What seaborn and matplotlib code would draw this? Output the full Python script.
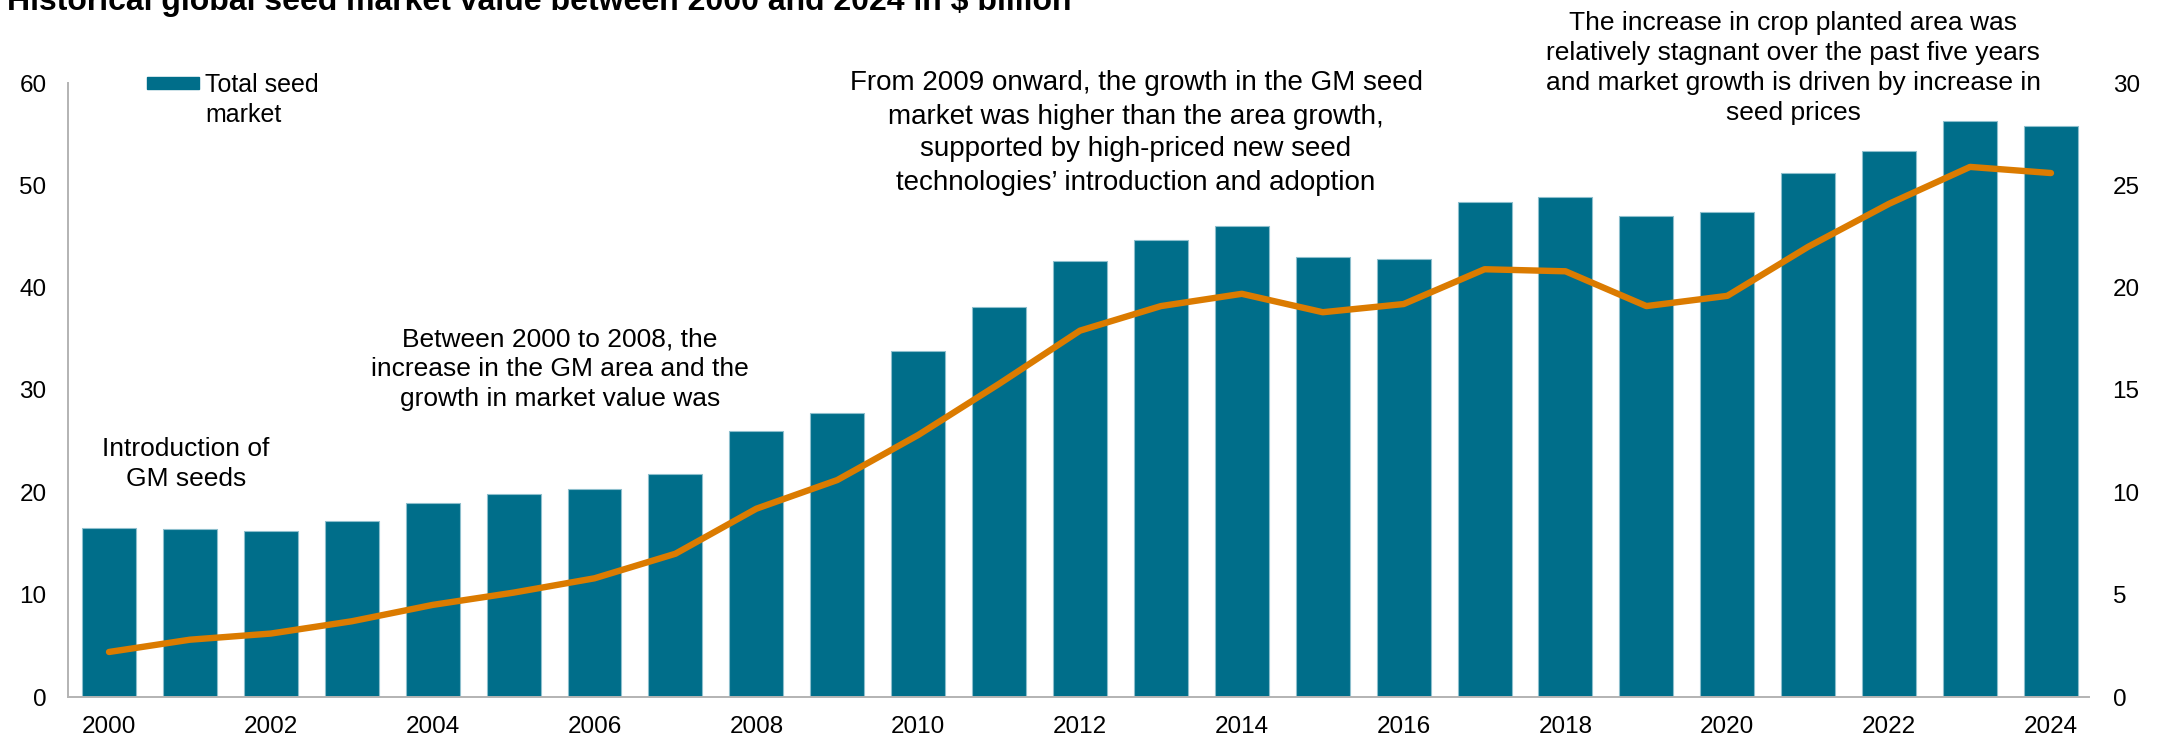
import numpy as np
import pandas as pd
import matplotlib
matplotlib.use("Agg")
import matplotlib.pyplot as plt
from matplotlib.patches import Rectangle
import seaborn as sns

# Global seed market, $ billion (bars, left axis) and planted area index (line, right axis)
years = list(range(2000, 2025))
market_value = [16.5, 16.4, 16.2, 17.2, 19.0, 19.8, 20.3, 21.8, 26.0, 27.8,
                33.8, 38.1, 42.6, 44.7, 46.0, 43.0, 42.8, 48.4, 48.9, 47.0,
                47.4, 51.2, 53.4, 56.3, 55.8]
planted_area = [2.2, 2.8, 3.1, 3.7, 4.5, 5.1, 5.8, 7.0, 9.2, 10.6,
                12.8, 15.3, 17.9, 19.1, 19.7, 18.8, 19.2, 20.9, 20.8, 19.1,
                19.6, 22.0, 24.1, 25.9, 25.6]
left_ticks = [0, 10, 20, 30, 40, 50, 60]
right_ticks = [0, 5, 10, 15, 20, 25, 30]
year_labels = [str(y) for y in years[::2]]

title = "Historical global seed market value between 2000 and 2024 in $ billion"
legend_label = "Total seed\nmarket"
notes = [
    "Introduction of\nGM seeds",
    "Between 2000 to 2008, the\nincrease in the GM area and the\ngrowth in market value was",
    "From 2009 onward, the growth in the GM seed\nmarket was higher than the area growth,\n"
    "supported by high-priced new seed\ntechnologies\u2019 introduction and adoption",
    "The increase in crop planted area was\nrelatively stagnant over the past five years\n"
    "and market growth is driven by increase in\nseed prices",
]

BAR = "#006E8A"
EDGE = "#8DBFCD"
LINE = "#DB7B00"
SPINE = "#B3B3B3"

sns.set_theme(style="white")
plt.rcParams["font.family"] = ["Liberation Sans", "DejaVu Sans"]
plt.rcParams["text.color"] = "black"

W, H = 2163, 740
fig = plt.figure(figsize=(W / 100, H / 100), dpi=100)


def fx(px):
    return px / W


def fy(py):
    return 1 - py / H


ax = fig.add_axes([fx(68), fy(697), (2089 - 68) / W, (697 - 83) / H])

df = pd.DataFrame({"year": [str(y) for y in years], "value": market_value})
sns.barplot(data=df, x="year", y="value", color=BAR, saturation=1, width=0.667,
            edgecolor=EDGE, linewidth=0.8, ax=ax)

ax2 = ax.twinx()
sns.lineplot(x=np.arange(len(years)), y=planted_area, color=LINE, linewidth=4.6,
             solid_capstyle="round", solid_joinstyle="round", ax=ax2)

ax.set_xlim(-0.507, 24.47)
ax.set_ylim(0, 60)
ax2.set_ylim(0, 30)
ax.set_yticks(left_ticks)
ax2.set_yticks(right_ticks)
ax.set_xticks(range(0, len(years), 2))
ax.set_xticklabels(year_labels)
ax.set(xlabel="", ylabel="")
ax2.set(xlabel="", ylabel="")

ax.tick_params(axis="both", length=0, labelsize=17.5, labelcolor="black")
ax.tick_params(axis="y", pad=15.5)
ax.tick_params(axis="x", pad=13.5)
ax2.tick_params(axis="y", length=0, labelsize=17.5, labelcolor="black", pad=17)

for s in ["top", "right"]:
    ax.spines[s].set_visible(False)
for s in ax2.spines.values():
    s.set_visible(False)
for s in ["left", "bottom"]:
    ax.spines[s].set_color(SPINE)
    ax.spines[s].set_linewidth(1.4)

# Legend swatch and label
fig.patches.append(Rectangle((fx(147), fy(89)), 52 / W, 12 / H,
                             transform=fig.transFigure, color=BAR))
fig.text(fx(205), fy(73), legend_label, fontsize=18, ha="left", va="top",
         linespacing=1.3)

fig.text(fx(7), fy(10), title, fontsize=23, fontweight="bold",
         ha="left", va="baseline")

fig.text(fx(186), fy(464), notes[0], fontsize=19, ha="center", va="center", linespacing=1.3)
fig.text(fx(560), fy(369), notes[1], fontsize=19, ha="center", va="center", linespacing=1.3)
fig.text(fx(1136), fy(133), notes[2], fontsize=20, ha="center", va="center", linespacing=1.35)
fig.text(fx(1793), fy(68), notes[3], fontsize=19, ha="center", va="center", linespacing=1.3)

fig.savefig("out.png", dpi=100)
